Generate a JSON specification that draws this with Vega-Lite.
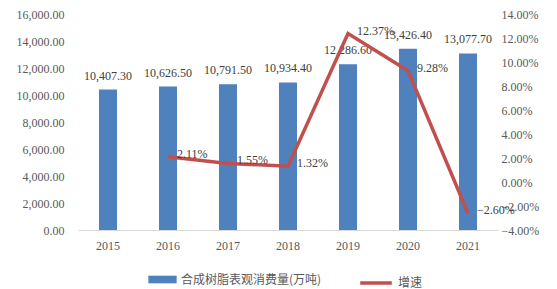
{
  "$schema": "https://vega.github.io/schema/vega-lite/v6.json",
  "width": 420,
  "height": 216,
  "autosize": {"type": "none"},
  "padding": {"left": 78, "top": 14, "right": 59, "bottom": 59},
  "background": "white",
  "config": {
    "view": {"stroke": null},
    "font": "Liberation Serif",
    "axisY": {"labelFont": "Liberation Serif", "labelFontSize": 12, "labelColor": "#595959", "grid": false, "ticks": false, "title": null, "labelOverlap": false, "labelSeparation": 0},
    "axisX": {"labelFont": "Liberation Serif", "labelFontSize": 12, "labelColor": "#595959", "grid": false, "ticks": false, "title": null, "labelOverlap": false}
  },
  "data": {
    "values": [
      {"year": "2015", "value": 10407.30, "growth": null},
      {"year": "2016", "value": 10626.50, "growth": 0.0211},
      {"year": "2017", "value": 10791.50, "growth": 0.0155},
      {"year": "2018", "value": 10934.40, "growth": 0.0132},
      {"year": "2019", "value": 12286.60, "growth": 0.1237},
      {"year": "2020", "value": 13426.40, "growth": 0.0928},
      {"year": "2021", "value": 13077.70, "growth": -0.0260}
    ]
  },
  "encoding": {
    "x": {
      "field": "year", "type": "nominal",
      "scale": {"paddingInner": 0.7, "paddingOuter": 0.35},
      "axis": {"labelAngle": 0, "domain": true, "domainColor": "#d9d9d9", "domainWidth": 1, "labelPadding": 10, "title": null}
    }
  },
  "layer": [
    {
      "encoding": {
        "y": {"field": "value", "type": "quantitative", "scale": {"domain": [0, 16000], "nice": false},
          "axis": {"values": [0, 2000, 4000, 6000, 8000, 10000, 12000, 14000, 16000], "format": ",.2f", "domain": false, "labelPadding": 14, "title": null, "labelColor": "#595959", "labelFontSize": 12, "labelFont": "Liberation Serif", "labelOverlap": false, "ticks": false, "grid": false}}
      },
      "layer": [
        {
          "mark": {"type": "bar", "color": "#4f81bd"},
          "encoding": {
            "fill": {"datum": "合成树脂表观消费量(万吨)", "type": "nominal", "scale": {"range": ["#4f81bd"]},
              "legend": {"orient": "none", "legendX": 70, "legendY": 251, "title": null, "labelFont": "Noto Sans CJK SC", "labelFontSize": 12, "labelColor": "#595959",
                "symbolType": "M-1,-0.27L1,-0.27L1,0.27L-1,0.27Z", "symbolSize": 800, "symbolStrokeWidth": 0, "labelOffset": 4}}
          }
        },
        {
          "mark": {"type": "text", "baseline": "bottom", "dy": -7, "fontSize": 12, "color": "#404040", "font": "Liberation Serif"},
          "encoding": {
            "text": {"field": "value", "type": "quantitative", "format": ",.2f"}
          }
        }
      ]
    },
    {
      "transform": [{"filter": "datum.growth != null"}],
      "encoding": {
        "y": {"field": "growth", "type": "quantitative", "scale": {"domain": [-0.04, 0.14], "nice": false},
          "axis": {"orient": "right", "values": [-0.04, -0.02, 0, 0.02, 0.04, 0.06, 0.08, 0.1, 0.12, 0.14], "format": ".2%", "domain": false, "labelPadding": 3, "title": null, "labelColor": "#595959", "labelFontSize": 12, "labelFont": "Liberation Serif", "labelOverlap": false, "ticks": false, "grid": false}}
      },
      "layer": [
        {
          "mark": {"type": "line", "strokeWidth": 3.5},
          "encoding": {
            "stroke": {"datum": "增速", "type": "nominal", "scale": {"range": ["#c0504d"]},
              "legend": {"orient": "none", "legendX": 280, "legendY": 251, "title": null, "labelFont": "Noto Sans CJK SC", "labelFontSize": 12, "labelColor": "#595959",
                "symbolType": "stroke", "symbolSize": 1000, "symbolStrokeWidth": 3.5, "labelOffset": 4}}
          }
        },
        {
          "mark": {"type": "text", "align": "left", "baseline": "middle", "dx": 9, "dy": -3, "fontSize": 12, "color": "#404040", "font": "Liberation Serif"},
          "encoding": {
            "text": {"field": "growth", "type": "quantitative", "format": ".2%"}
          }
        }
      ]
    }
  ],
  "resolve": {"scale": {"y": "independent", "fill": "independent", "stroke": "independent"}}
}
